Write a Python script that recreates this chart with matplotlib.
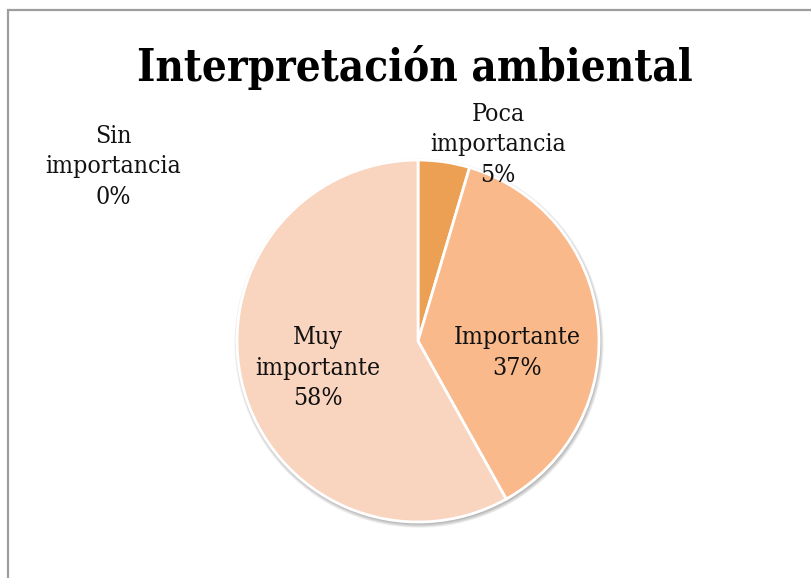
import matplotlib
matplotlib.use("Agg")
import matplotlib.pyplot as plt
from matplotlib.patches import Circle, Rectangle

categories = ["Sin\nimportancia", "Poca\nimportancia", "Importante", "Muy\nimportante"]
values = [0, 4.6, 37.3, 58.1]
colors = ["#D9833A", "#EBA054", "#F9B98A", "#F9D4BE"]
label_pos = [(113, 167), (498, 145), (517, 353), (318, 368)]  # pixel centres of labels

W, H = 812, 578
fig = plt.figure(figsize=(W / 100, H / 100), dpi=100)
fig.patch.set_facecolor("white")

# outer frame
fig.patches.append(Rectangle((8.5 / W, -0.1), 1.2, 1 - 9.5 / H + 0.1, transform=fig.transFigure,
                             fill=False, edgecolor="#9e9e9e", linewidth=1.6))

cx, cy, r = 418, 341, 181
ax = fig.add_axes([(cx - r) / W, (H - cy - r) / H, 2 * r / W, 2 * r / H])

# soft shadow
for i in range(6):
    ax.add_patch(Circle((0.006, -0.012), 1.0 + 0.004 * i, facecolor="#000000", alpha=0.05,
                        edgecolor="none", zorder=0, clip_on=False))

ax.pie(values, colors=colors, startangle=90, counterclock=False, radius=1.0,
       wedgeprops=dict(edgecolor="white", linewidth=2.0),
       normalize=True)
ax.set_xlim(-1, 1)
ax.set_ylim(-1, 1)
ax.set_aspect("equal")
ax.axis("off")

fam = ["DejaVu Serif"]
fig.text(415 / W, 1 - 67 / H, "Interpretación ambiental", ha="center", va="center",
         fontsize=31.4, fontweight="bold", family=fam, fontstretch="condensed")

total = sum(values)
for cat, v, (px, py) in zip(categories, values, label_pos):
    pct = round(100 * v / total)
    fig.text(px / W, 1 - py / H, f"{cat}\n{pct}%", ha="center", va="center",
             fontsize=17.8, family=fam, fontstretch="condensed", linespacing=1.39, color="#111111")

fig.savefig("out.png", dpi=100, facecolor="white")
